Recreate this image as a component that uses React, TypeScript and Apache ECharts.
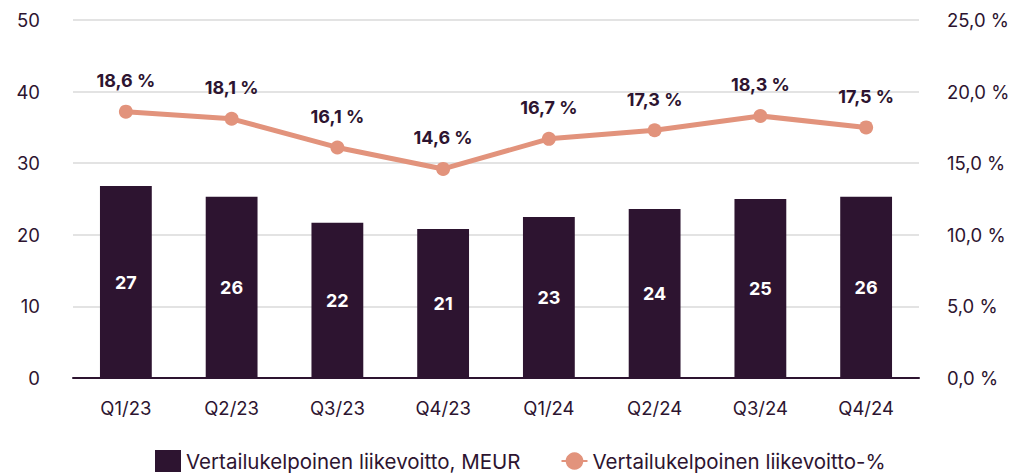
import React, { useEffect, useRef } from "react";
import * as echarts from "echarts";

const categories = ["Q1/23", "Q2/23", "Q3/23", "Q4/23", "Q1/24", "Q2/24", "Q3/24", "Q4/24"];
const profitValues = [26.8, 25.3, 21.7, 20.8, 22.5, 23.6, 25.0, 25.3];
const profitLabels = ["27", "26", "22", "21", "23", "24", "25", "26"];
const marginValues = [18.6, 18.1, 16.1, 14.6, 16.7, 17.3, 18.3, 17.5];
const barName = "Vertailukelpoinen liikevoitto, MEUR";
const lineName = "Vertailukelpoinen liikevoitto-%";

const DARK = "#2d1430";
const SALMON = "#e2937c";
const FONT = "Inter, 'Noto Sans', sans-serif";

const fmt = (v: number, d: number) => v.toFixed(d).replace(".", ",") + " %";

export default function App() {
  const ref = useRef<HTMLDivElement>(null);
  useEffect(() => {
    if (!ref.current) return;
    const chart = echarts.init(ref.current, null, { renderer: "svg" });
    chart.setOption({
      animation: false,
      textStyle: { fontFamily: FONT },
      grid: { left: 73, right: 95, top: 20, bottom: 98 },
      legend: {
        bottom: -1,
        left: 150,
        itemGap: 40,
        itemWidth: 26,
        itemHeight: 22,
        textStyle: { color: DARK, fontSize: 20.5, fontFamily: FONT },
        data: [
          { name: barName, icon: "rect" },
          { name: lineName },
        ],
      },
      xAxis: {
        type: "category",
        data: categories,
        axisLine: { lineStyle: { color: DARK, width: 2 } },
        axisTick: { show: false },
        axisLabel: { color: DARK, fontSize: 18.5, margin: 20, fontFamily: FONT },
      },
      yAxis: [
        {
          type: "value",
          min: 0,
          max: 50,
          interval: 10,
          axisLabel: { color: DARK, fontSize: 18.5, margin: 33, fontFamily: FONT },
          splitLine: { lineStyle: { color: "#e3e3e3", width: 2 } },
          axisLine: { show: false },
        },
        {
          type: "value",
          min: 0,
          max: 25,
          interval: 5,
          axisLabel: {
            color: DARK,
            fontSize: 18.5,
            margin: 28,
            fontFamily: FONT,
            formatter: (v: number) => fmt(v, 1),
          },
          splitLine: { show: false },
          axisLine: { show: false },
        },
      ],
      series: [
        {
          name: barName,
          type: "bar",
          data: profitValues,
          barWidth: "49%",
          itemStyle: { color: DARK },
          label: {
            show: true,
            position: "inside",
            color: "#ffffff",
            fontSize: 18,
            fontWeight: "bold",
            fontFamily: FONT,
            formatter: (p: any) => profitLabels[p.dataIndex],
          },
        },
        {
          name: lineName,
          type: "line",
          yAxisIndex: 1,
          data: marginValues,
          symbol: "circle",
          symbolSize: 14,
          lineStyle: { color: SALMON, width: 5 },
          itemStyle: { color: SALMON },
          label: {
            show: true,
            position: "top",
            distance: 15,
            color: DARK,
            fontSize: 18,
            fontWeight: "bold",
            fontFamily: FONT,
            formatter: (p: any) => fmt(p.value, 1),
          },
        },
      ],
    });
    return () => chart.dispose();
  }, []);
  return <div ref={ref} style={{ width: 1014, height: 476, position: "absolute", left: 0, top: 0 }} />;
}
